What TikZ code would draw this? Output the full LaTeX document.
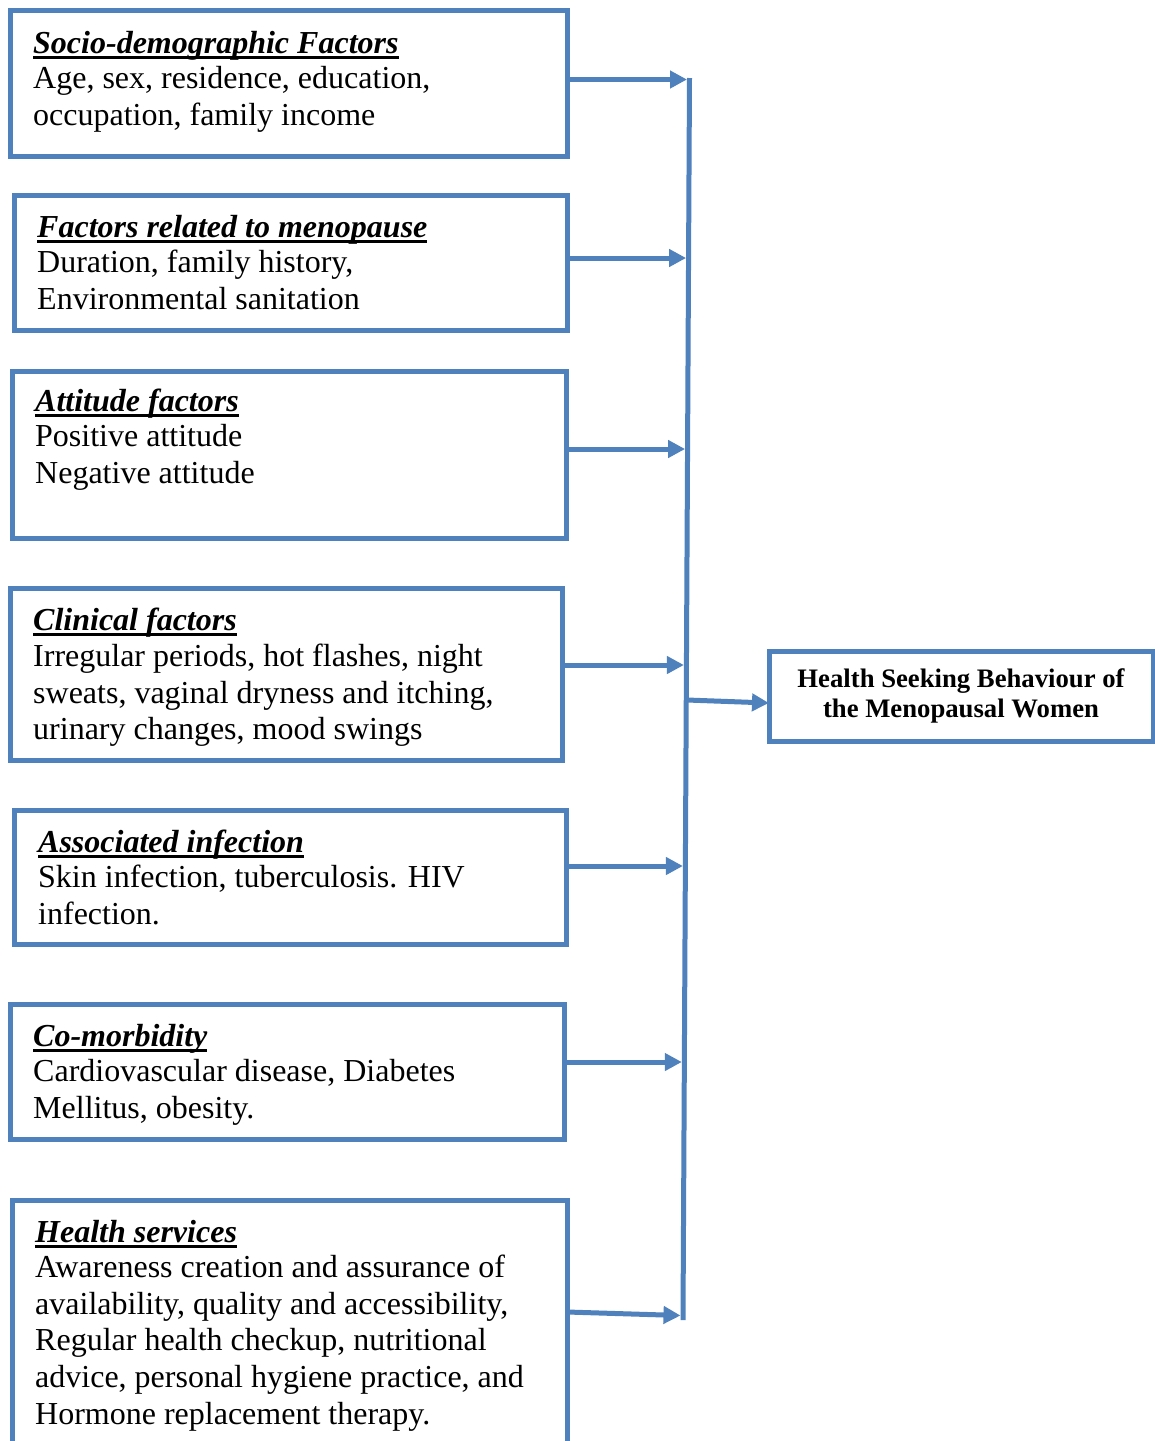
\documentclass[tikz,border=0pt]{standalone}
\usepackage{fontspec}
\setmainfont{Liberation Serif}
\usetikzlibrary{arrows.meta}
\definecolor{hblue}{RGB}{79,129,189}
\newcommand{\hd}[1]{\setbox0\hbox{\bfseries\itshape #1}\rlap{\rule[-5.5pt]{\wd0}{3pt}}\box0}
\newcommand{\blk}[1]{\vtop{\baselineskip=36.8pt #1}}
\begin{document}
\begin{tikzpicture}[x=1pt,y=-1pt,
  fbox/.style={draw=hblue,line width=5pt,inner sep=0pt,outer sep=0pt,anchor=north west},
  txt/.style={anchor=base west,inner sep=0pt,font=\fontsize{32}{36.8}\selectfont},
  conn/.style={draw=hblue,line width=5pt},
  arr/.style={conn,-{Triangle[length=17pt,width=17pt]}}]
\useasboundingbox (0,0) rectangle (1155,1441);
\clip (0,0) rectangle (1155,1441);
\fill[white] (0,0) rectangle (1155,1441);
% boxes
\node[fbox,minimum width=557pt,minimum height=146pt] (b1) at (10,10) {};
\node[fbox,minimum width=553pt,minimum height=135pt] (b2) at (14,195) {};
\node[fbox,minimum width=554pt,minimum height=167pt] (b3) at (12,371) {};
\node[fbox,minimum width=552pt,minimum height=172pt] (b4) at (10,588) {};
\node[fbox,minimum width=552pt,minimum height=134pt] (b5) at (14,810) {};
\node[fbox,minimum width=554pt,minimum height=135pt] (b6) at (10,1004) {};
\node[fbox,minimum width=555pt,minimum height=300pt] (b7) at (12,1200) {};
\node[fbox,minimum width=384pt,minimum height=90pt,align=center,
      font=\bfseries\fontsize{26.7}{30.7}\selectfont] (hsb) at (769,651)
      {Health Seeking Behaviour of\\the Menopausal Women};
% texts
\node[txt] (t1) at (33,53) {\blk{\hbox{\hd{Socio-demographic Factors}}\vskip-1.5pt
  \hbox{Age, sex, residence, education,}\hbox{occupation, family income}}};
\node[txt] (t2) at (37,237) {\blk{\hbox{\hd{Factors related to menopause}}\vskip-1.5pt
  \hbox{Duration, family history,}\hbox{Environmental sanitation}}};
\node[txt] (t3) at (35,411) {\blk{\hbox{\hd{Attitude factors}}\vskip-1.5pt
  \hbox{Positive attitude}\hbox{Negative attitude}}};
\node[txt] (t4) at (33,630) {\blk{\hbox{\hd{Clinical factors}}\vskip-0.5pt
  \hbox{Irregular periods, hot flashes, night}\hbox{sweats, vaginal dryness and itching,}
  \hbox{urinary changes, mood swings}}};
\node[txt] (t5) at (38,852) {\blk{\hbox{\hd{Associated infection}}\vskip-1.5pt
  \hbox{Skin infection, tuberculosis. HIV}\hbox{infection.}}};
\node[txt] (t6) at (33,1046) {\blk{\hbox{\hd{Co-morbidity}}\vskip-1.5pt
  \hbox{Cardiovascular disease, Diabetes}\hbox{Mellitus, obesity.}}};
\node[txt] (t7) at (35,1242) {\blk{\hbox{\hd{Health services}}\vskip-1.5pt
  \hbox{Awareness creation and assurance of}\hbox{availability, quality and accessibility,}
  \hbox{Regular health checkup, nutritional}\hbox{advice, personal hygiene practice, and}
  \hbox{Hormone replacement therapy.}}};
% bus
\coordinate (bt) at (689.5,78);
\coordinate (bb) at (683,1320);
\draw[conn] (bt) -- (bb);
\coordinate (j1) at (687,79.5);
\coordinate (j2) at (686.1,258);
\coordinate (j3) at (685.1,449);
\coordinate (j4) at (683.9,665);
\coordinate (j5) at (682.9,866);
\coordinate (j6) at (681.8,1062);
\coordinate (j7) at (680.5,1315.5);
\coordinate (s7) at (b7.north east |- 0,1312);
\coordinate (jo) at (687,700);
\draw[arr] (b1.east |- j1) -- (j1);
\draw[arr] (b2.east |- j2) -- (j2);
\draw[arr] (b3.east |- j3) -- (j3);
\draw[arr] (b4.east |- j4) -- (j4);
\draw[arr] (b5.east |- j5) -- (j5);
\draw[arr] (b6.east |- j6) -- (j6);
\draw[arr] (s7) -- (j7);
\draw[arr] (jo) -- ([yshift=-7pt]hsb.west);
\end{tikzpicture}
\end{document}
